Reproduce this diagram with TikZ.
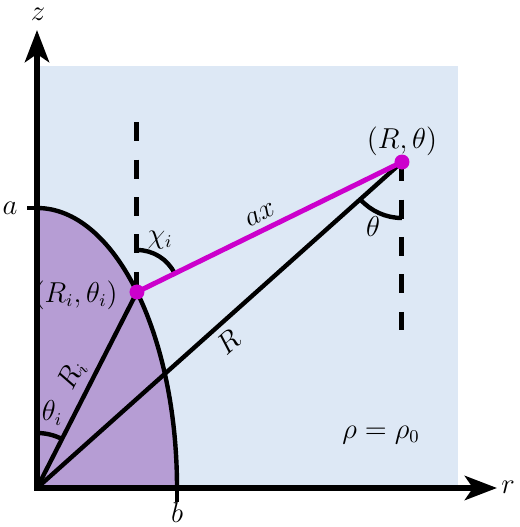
\documentclass[tikz,border=0pt]{standalone}
\usepackage{amsmath}
\usepackage{amssymb}
\usetikzlibrary{arrows.meta}
\definecolor{bgblue}{RGB}{221,232,245}
\definecolor{lilac}{RGB}{182,157,212}
\definecolor{mag}{RGB}{204,0,204}
\begin{document}
\begin{tikzpicture}[x=0.5pt, y=0.5pt,
        axis/.style = {line width=3pt, line cap=rect, -{Stealth[length=16pt, width=12pt, inset=4pt]}},
        ray/.style = {line width=2.2pt},
        guide/.style = {line width=2.5pt, dash pattern=on 9.5pt off 9.25pt},
        lbl/.style = {inner sep=3pt, font=\fontsize{13.5}{16}\selectfont}]
        \useasboundingbox (-37,-39) rectangle (483,488);
        \fill[bgblue] (0,0) rectangle (421,422);
        \coordinate (O) at (0,0);
        \coordinate (A) at (0,280);
        \coordinate (B) at (140,0);
        \coordinate (At) at (-10,280);
        \coordinate (Bt) at (140,-14);
        \coordinate (Ri) at (100,196);
        \coordinate (Rp) at (365,326);
        \coordinate (Zt) at (0,458);
        \coordinate (Rt) at (460,0);
        \coordinate (Di) at (100,366);
        \coordinate (Dp) at (365,158);
        \fill[lilac] (O) -- (A) arc[start angle=90, end angle=0, x radius=140, y radius=280] -- cycle;
        \draw[ray] (A) arc[start angle=90, end angle=0, x radius=140, y radius=280];
        \draw[ray] (A) -- (At);
        \draw[ray] (B) -- (Bt);
        \draw[axis] (O) -- (Zt);
        \draw[axis] (O) -- (Rt);
        \draw[ray] (O) -- (Ri) node[lbl, pos=0.53, above, sloped] {$R_i$};
        \draw[ray] (O) -- (Rp) node[lbl, pos=0.49, below, sloped] {$R$};
        \draw[guide] (Di) -- (Ri);
        \draw[guide] (Rp) -- (Dp);
        \draw[ray] (O) ++(90:55) arc[start angle=90, end angle=63, radius=55];
        \draw[ray] (Rp) ++(270:56) arc[start angle=270, end angle=221.8, radius=56];
        \draw[ray] (Ri) ++(90:42) arc[start angle=90, end angle=26.1, radius=42];
        \draw[line width=2.5pt, mag] (Ri) -- (Rp) node[lbl, pos=0.49, above, sloped, text=black] {$ax$};
        \fill[mag] (Ri) circle[radius=7.5];
        \fill[mag] (Rp) circle[radius=7.5];
        \node[lbl, above] (lblR) at (Rp) {$(R,\theta)$};
        \node[lbl, anchor=east] (lblRi) at ([xshift=-6.5pt, yshift=-1.5pt]Ri) {$(R_i,\theta_i)$};
        \node[lbl] (chi) at ([xshift=11.5pt, yshift=26pt]Ri) {$\chi_i$};
        \node[lbl] (th) at ([xshift=-14.5pt, yshift=-32.5pt]Rp) {$\theta$};
        \node[lbl] (thi) at (15,75) {$\theta_i$};
        \node[lbl] (rho) at (344,53) {$\rho = \rho_0$};
        \node[lbl, inner sep=0pt] (zlab) at (1,474) {$z$};
        \node[lbl] (rlab) at (471,1) {$r$};
        \node[lbl] (alab) at (-27,280) {$a$};
        \node[lbl, inner sep=0pt] (blab) at (140,-25) {$b$};
\end{tikzpicture}
\end{document}
